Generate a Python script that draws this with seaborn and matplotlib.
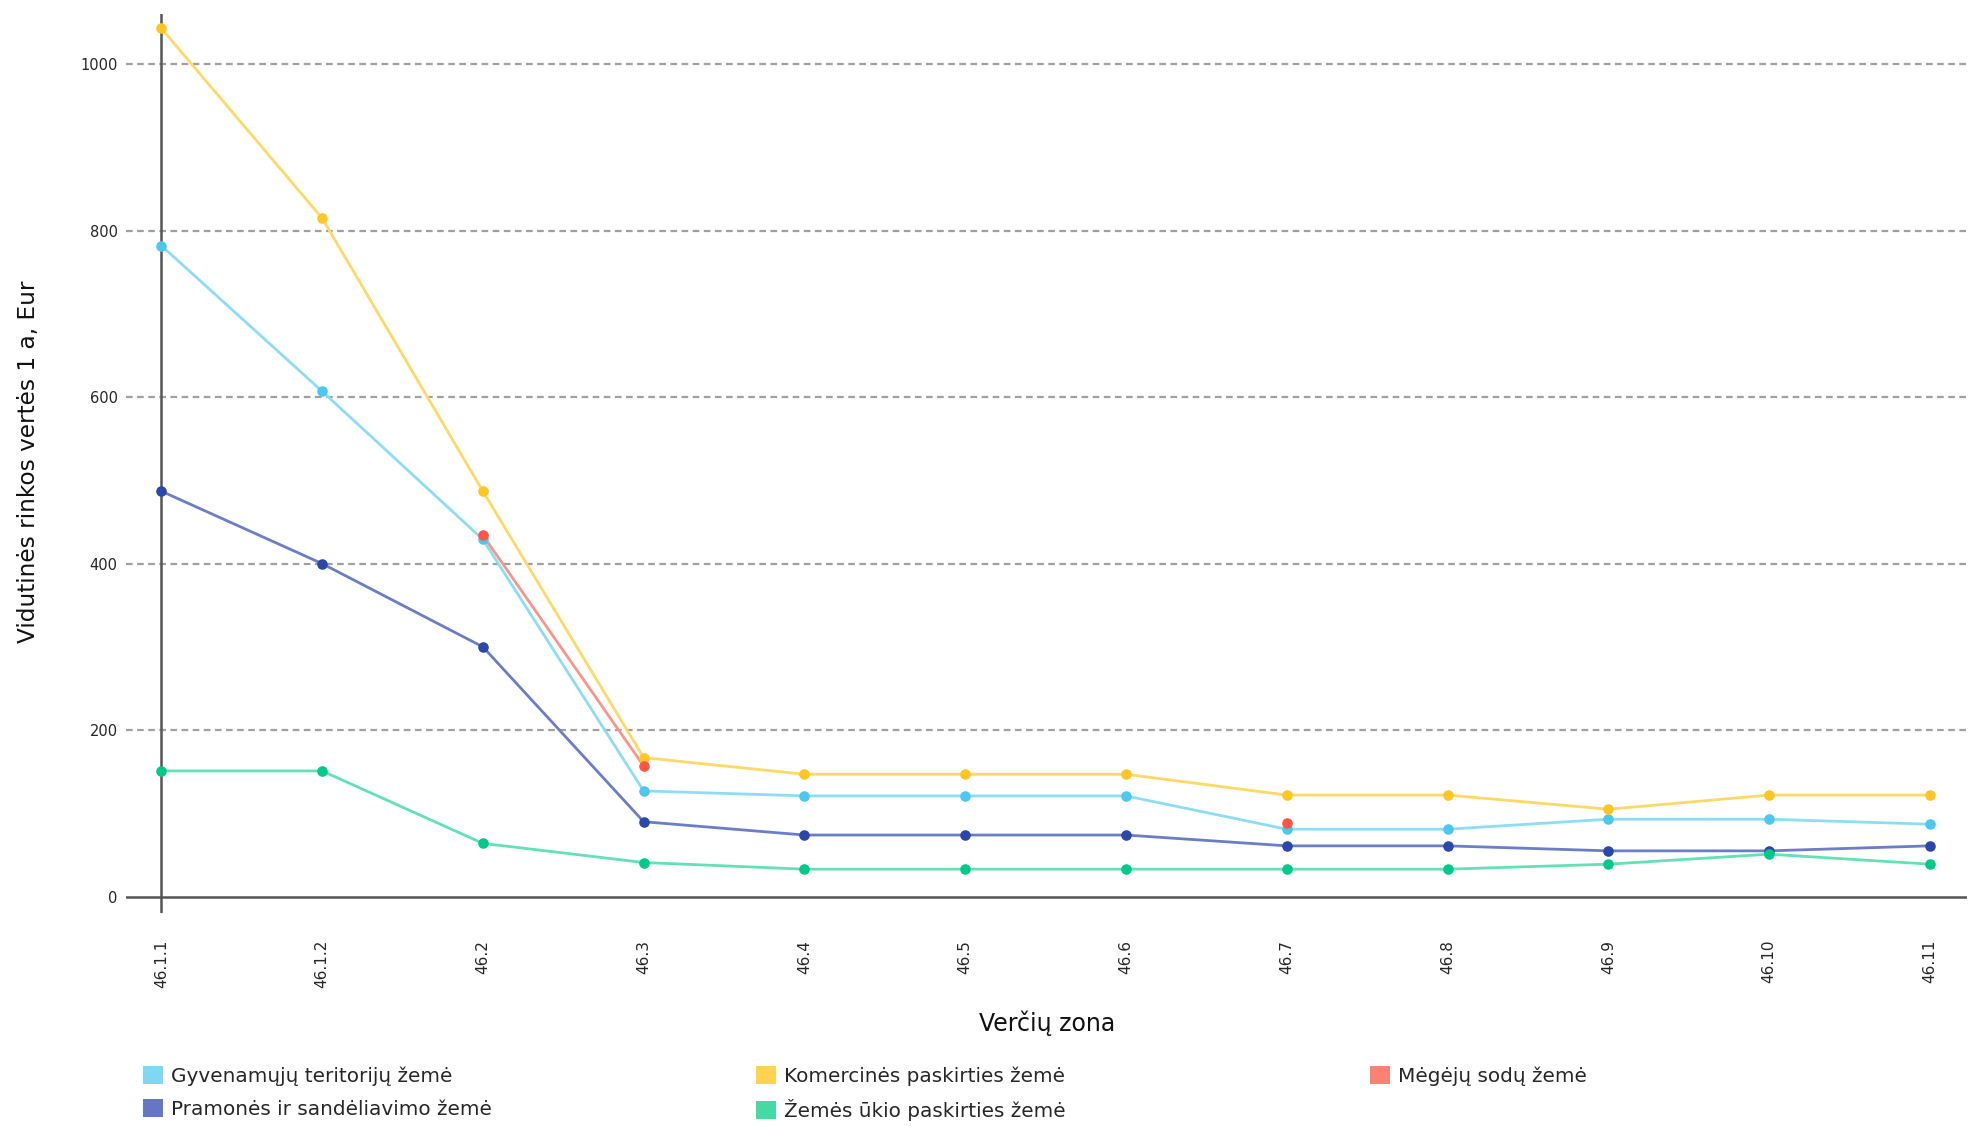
import pandas as pd
import numpy as np
import matplotlib
matplotlib.use("Agg")
import matplotlib.pyplot as plt
import seaborn as sns
from matplotlib.patches import Patch

# data
zones = ["46.1.1", "46.1.2", "46.2", "46.3", "46.4", "46.5", "46.6",
         "46.7", "46.8", "46.9", "46.10", "46.11"]
gyvenamuju = [782, 607, 429, 127, 121, 121, 121, 81, 81, 93, 93, 87]
komercines = [1043, 815, 487, 167, 147, 147, 147, 122, 122, 105, 122, 122]
megeju = [np.nan, np.nan, 434, 157, np.nan, np.nan, np.nan, 89,
          np.nan, np.nan, np.nan, np.nan]
pramones = [487, 400, 300, 90, 74, 74, 74, 61, 61, 55, 55, 61]
zemes_ukio = [151, 151, 64, 41, 33, 33, 33, 33, 33, 39, 51, 39]

series_names = ["Gyvenamųjų teritorijų žemė", "Komercinės paskirties žemė",
                "Mėgėjų sodų žemė", "Pramonės ir sandėliavimo žemė",
                "Žemės ūkio paskirties žemė"]
series_values = [gyvenamuju, komercines, megeju, pramones, zemes_ukio]

marker_colors = ["#4cc8f0", "#ffc524", "#ff5544", "#2c47a8", "#00c98a"]
line_colors = ["#8ddcf6", "#ffd866", "#f7958b", "#6b7dc6", "#62e0b6"]
legend_colors = ["#7fd6f5", "#ffd34f", "#fa8274", "#6476c4", "#45d9a4"]

sns.set_theme(style="white")
plt.rcParams["font.family"] = ["DejaVu Sans"]

fig = plt.figure(figsize=(19.8, 11.26), dpi=100)
ax = fig.add_axes([0.0636, 0.1889, 0.9298, 0.7986])

# gridlines and axis lines
for v in [200, 400, 600, 800, 1000]:
    ax.axhline(v, color="#a0a0a0", lw=1.6, ls=(0, (3, 2)), zorder=0)
ax.axhline(0, color="#555555", lw=1.8, zorder=1)
ax.axvline(0, color="#555555", lw=1.8, zorder=1)

for name, vals, mc, lc in zip(series_names, series_values, marker_colors, line_colors):
    df = pd.DataFrame({"pos": np.arange(len(zones)), "value": vals})
    # break the line where values are missing
    df["seg"] = df["value"].isna().cumsum()
    df = df.dropna()
    sns.lineplot(data=df, x="pos", y="value", units="seg", estimator=None,
                 color=lc, lw=2.0, ax=ax, zorder=2)
    sns.scatterplot(data=df, x="pos", y="value", color=mc, s=58,
                    linewidth=0, ax=ax, zorder=3)

ax.set_xlim(-0.22, 11.23)
ax.set_ylim(-20, 1060)
ax.set_xticks(range(len(zones)))
ax.set_xticklabels(zones, rotation=90, fontsize=11, va="top")
ax.set_yticks([0, 200, 400, 600, 800, 1000])
ax.set_yticklabels(["0", "200", "400", "600", "800", "1000"], fontsize=10.5)
ax.tick_params(axis="x", length=0, pad=19)
ax.tick_params(axis="y", length=0, pad=6)
for s in ax.spines.values():
    s.set_visible(False)
ax.grid(False)

ax.set_xlabel("")
ax.set_ylabel("")
fig.text(0.0142, 0.590, "Vidutinės rinkos vertės 1 a, Eur", rotation=90,
         fontsize=16.7, ha="center", va="center", color="#111111")
fig.text(0.5288, 0.0915, "Verčių zona", fontsize=17, ha="center",
         va="center", color="#111111")

# legend in three fixed columns
columns = [[0, 3], [1, 4], [2]]
col_x = [143, 756, 1370]
for idx, cx in zip(columns, col_x):
    handles = [Patch(facecolor=legend_colors[i], edgecolor="none") for i in idx]
    labels = [series_names[i] for i in idx]
    fig.legend(handles, labels, loc="upper left",
               bbox_to_anchor=(cx / 1980, 1 - 1066 / 1126),
               frameon=False, fontsize=14.4, handlelength=1.0, handleheight=1.0,
               handletextpad=0.4, labelspacing=0.65, borderpad=0,
               borderaxespad=0)

fig.savefig("out.png", dpi=100)
